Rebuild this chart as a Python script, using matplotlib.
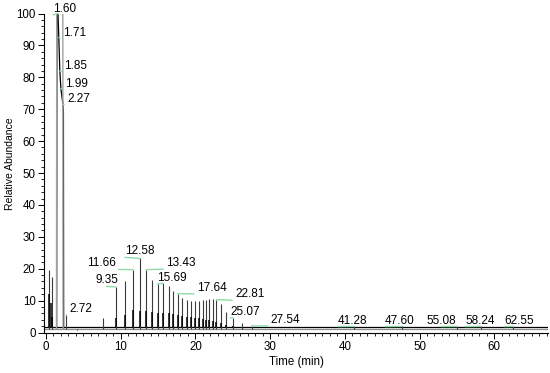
import numpy as np
import matplotlib
matplotlib.use("Agg")
import matplotlib.pyplot as plt
from matplotlib.ticker import MultipleLocator

plt.rcParams['font.family'] = ['Liberation Sans', 'DejaVu Sans']

# trace A (grey, tall spikes): retention time (min) and relative abundance
a_time = [0.44, 0.75, 2.72, 3.35, 4.10, 7.60, 9.35, 10.60, 11.66, 12.58, 13.43,
          14.20, 15.00, 15.69, 16.40, 17.05, 17.64, 18.25, 18.85, 19.40, 19.95,
          20.50, 21.00, 21.40, 21.85, 22.30, 22.81, 23.40, 24.15, 25.07, 26.20,
          27.54, 41.28, 47.60, 55.08, 58.24, 62.55]
a_height = [19.5, 17.5, 5.5, 1.2, 0.9, 4.6, 14.3, 16.0, 19.7, 23.2, 19.7,
            16.6, 15.1, 15.4, 14.5, 12.9, 12.2, 10.9, 10.1, 9.9, 9.9,
            9.9, 10.1, 10.3, 10.4, 10.5, 10.3, 8.8, 6.4, 4.6, 2.9,
            2.1, 1.9, 1.9, 1.9, 1.9, 1.9]
# solvent front of trace A, saturated above the axis
a_solvent_time = [1.40, 1.44, 2.25, 2.28]
a_solvent_level = [1.2, 110, 110, 1.2]

# trace B (black)
b_time = [0.44, 0.67, 0.80, 9.35, 10.60, 11.66, 12.58, 13.43, 14.20, 15.00,
          15.69, 16.40, 17.05, 17.64, 18.25, 18.85, 19.40, 19.95, 20.50,
          21.00, 21.40, 21.85, 22.30, 22.81, 23.40, 24.15, 25.07]
b_height = [12.0, 9.2, 5.0, 4.4, 5.5, 7.0, 6.8, 6.8, 6.4, 6.2,
            6.2, 6.0, 5.8, 5.5, 5.2, 5.0, 4.8, 4.6, 4.4,
            4.2, 4.0, 3.8, 3.6, 3.4, 3.0, 2.5, 2.0]
b_solvent_time = [1.42, 1.46, 1.60, 1.71, 1.85, 1.99, 2.27, 2.33, 2.36]
b_solvent_level = [1.5, 100, 100, 92.5, 82.0, 76.5, 71.5, 69.0, 1.5]

baseline_time = [-0.3, 67.3]
baseline_a = [1.2, 1.2]
baseline_b = [1.6, 1.6]

peak_labels = ["1.60", "1.71", "1.85", "1.99", "2.27", "2.72", "9.35", "11.66",
               "12.58", "13.43", "15.69", "17.64", "22.81", "25.07", "27.54",
               "41.28", "47.60", "55.08", "58.24", "62.55"]

# label text anchor (left, baseline) in data units
label_pos = {
    "1.60": (0.94, 100.5), "1.71": (2.28, 92.9), "1.85": (2.41, 82.5),
    "1.99": (2.54, 76.9), "2.27": (2.81, 72.2), "2.72": (3.12, 6.5),
    "9.35": (6.56, 15.4), "11.66": (5.49, 20.8), "12.58": (10.58, 24.5),
    "13.43": (16.06, 20.8), "15.69": (14.9, 16.2), "17.64": (20.17, 13.0),
    "22.81": (25.3, 11.0), "25.07": (24.63, 5.5), "27.54": (30.08, 3.0),
    "41.28": (39.1, 2.8), "47.60": (45.4, 2.8), "55.08": (50.9, 2.8),
    "58.24": (56.1, 2.8), "62.55": (61.3, 2.8),
}
left_side = {"9.35", "11.66", "55.08"}

fig = plt.figure(figsize=(5.5, 3.73), dpi=100)
ax = fig.add_axes([44/550, 1 - 332.5/373, 504/550, 319/373])

ax.plot(baseline_time, baseline_a, color='#8c8c8c', lw=0.9)
ax.plot(baseline_time, baseline_b, color='black', lw=0.9)
ax.vlines(a_time, baseline_a[0], a_height, colors='#3a3a3a', lw=0.8)
ax.vlines(b_time, baseline_b[0], b_height, colors='black', lw=1.1)
ax.plot(b_solvent_time, b_solvent_level, color='black', lw=0.9)
ax.plot(a_solvent_time, a_solvent_level, color='#a0a0a0', lw=1.0)

peak_t = np.array(a_time)
peak_h = np.array(a_height)
for lab in peak_labels:
    t = float(lab)
    if t < 2.5:
        h = np.interp(t, b_solvent_time[2:-1], b_solvent_level[2:-1])
    else:
        h = peak_h[np.argmin(np.abs(peak_t - t))]
    tx, ty = label_pos[lab]
    rel = (0.5, 0) if lab in left_side else (0, 0)
    ax.annotate(lab, xy=(t, h), xytext=(tx, ty), textcoords='data',
                ha='left', va='baseline', fontsize=8.5, annotation_clip=False,
                arrowprops=dict(arrowstyle='-', color='#8fdba8', lw=1.0,
                                shrinkA=0, shrinkB=0, relpos=rel))

ax.set_xlim(-0.27, 67.2)
ax.set_ylim(0, 100)
ax.xaxis.set_major_locator(MultipleLocator(10))
ax.xaxis.set_minor_locator(MultipleLocator(1))
ax.yaxis.set_major_locator(MultipleLocator(10))
ax.yaxis.set_minor_locator(MultipleLocator(2))
ax.tick_params(which='major', length=4, width=0.7, labelsize=8.3, pad=2)
ax.tick_params(which='minor', length=2.5, width=0.6)
for s in ['top', 'right']:
    ax.spines[s].set_visible(False)
for s in ['left', 'bottom']:
    ax.spines[s].set_linewidth(0.8)

ax.set_xlabel('Time (min)', fontsize=8.3, labelpad=2)
ax.set_ylabel('Relative Abundance', fontsize=7.5)
ax.yaxis.set_label_coords(-0.058, (332.5 - 164) / 319)

fig.savefig('out.png', dpi=100)
